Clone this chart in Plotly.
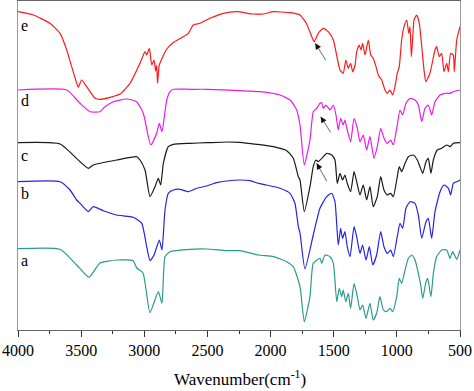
import plotly.graph_objects as go

# ---- data (wavenumber cm-1, offset transmittance in arbitrary units) ----
a_wn = [4000, 3667, 3535, 3438, 3351, 3218, 3089, 3060, 3010, 2955, 2889, 2860, 2836, 2796, 2638, 2506, 2347, 2242, 2097, 1978, 1872, 1820, 1767, 1733, 1688, 1662, 1609, 1595, 1569, 1529, 1503, 1476, 1456, 1437, 1425, 1404, 1385, 1366, 1339, 1313, 1292, 1271, 1244, 1213, 1187, 1160, 1134, 1107, 1081, 1054, 1033, 1001, 981, 962, 935, 909, 882, 856, 830, 811, 795, 769, 756, 730, 711, 685, 645, 605, 579, 558, 526, 500]
a_t = [81.3, 80.7, 65, 52.7, 67, 70, 69.3, 62, 57, 17.3, 38.3, 26.7, 73.3, 78.3, 80.7, 81, 79.3, 79.3, 75, 73.3, 68.3, 63.3, 43.3, 8.3, 33.3, 66.7, 71.7, 66.7, 75, 73.3, 66.7, 28.3, 41.7, 33.3, 40, 28.3, 36.7, 21.7, 46.7, 33.3, 20, 25, 11.7, 26.7, 10, 16.7, 33.3, 20, 18.3, 21.7, 18.3, 33.3, 51.7, 46.7, 60, 71.7, 75, 70, 56.7, 45, 31.7, 48.3, 51.7, 33.3, 56.7, 73.3, 80, 80, 71.7, 78.3, 70.7, 80]

b_wn = [4000, 3667, 3588, 3535, 3509, 3443, 3404, 3325, 3218, 3087, 3020, 2981, 2955, 2923, 2881, 2860, 2836, 2810, 2770, 2717, 2651, 2585, 2506, 2427, 2347, 2242, 2163, 2097, 2031, 1925, 1846, 1807, 1780, 1767, 1728, 1662, 1609, 1556, 1516, 1490, 1464, 1445, 1430, 1411, 1393, 1371, 1339, 1318, 1292, 1271, 1244, 1218, 1191, 1160, 1128, 1102, 1076, 1049, 1028, 997, 975, 954, 928, 896, 856, 830, 803, 769, 751, 724, 698, 658, 627, 592, 574, 553, 526, 500]
b_t = [148.3, 148.3, 140, 130, 126.7, 118.3, 123.3, 119.3, 115, 112.7, 106.7, 83.3, 69.3, 75, 90, 80, 120, 136.7, 140, 140.7, 138.3, 141.7, 144, 147.3, 149, 150, 149.3, 146.7, 145, 141.7, 136.7, 126.7, 103.3, 97, 61, 95, 121.7, 133.3, 136.7, 128.3, 85, 101.7, 91.7, 98.3, 83.3, 73.3, 103.3, 93.3, 76.7, 85, 70, 83.3, 65, 75, 98.3, 83.3, 76.7, 80, 73.3, 93.3, 106.7, 101.7, 121.7, 128.3, 126.7, 115, 91.7, 108.3, 111.7, 91.7, 118.3, 138.3, 145, 141.7, 135, 146.7, 148.3, 150]

c_wn = [4000, 3667, 3509, 3443, 3404, 3218, 3060, 3034, 2994, 2955, 2915, 2889, 2870, 2849, 2810, 2770, 2638, 2506, 2347, 2242, 2110, 1978, 1872, 1820, 1780, 1767, 1733, 1688, 1662, 1640, 1622, 1582, 1556, 1516, 1490, 1472, 1450, 1430, 1411, 1393, 1366, 1339, 1318, 1292, 1266, 1239, 1213, 1187, 1155, 1128, 1102, 1076, 1049, 1028, 1001, 981, 962, 935, 909, 869, 838, 817, 795, 769, 751, 730, 711, 680, 645, 605, 579, 553, 500]
c_t = [187.3, 186, 168.3, 161.7, 165, 170, 173.3, 170, 160, 133.3, 143.3, 151.7, 145, 166.7, 183.3, 185.7, 186.7, 187.3, 188, 187.7, 185.7, 183.3, 179.3, 171.7, 153.3, 150, 118.3, 143.3, 163.3, 170, 168.3, 173.3, 176.7, 175, 170, 146.7, 156.7, 150, 155, 146.7, 138.3, 158.3, 148.3, 135, 145, 130, 143.3, 123.3, 133.3, 153.3, 140, 135, 136.7, 133.3, 150, 163.3, 158.3, 166.7, 173.3, 175, 170, 163.3, 156.7, 168.3, 171.7, 156.7, 170, 180, 181.7, 185, 183.3, 186.7, 187.3]

d_wn = [4000, 3614, 3509, 3430, 3351, 3311, 3245, 3139, 3060, 3008, 2949, 2902, 2881, 2860, 2822, 2796, 2770, 2638, 2506, 2242, 2084, 1925, 1846, 1807, 1793, 1767, 1733, 1688, 1662, 1635, 1609, 1595, 1582, 1561, 1529, 1503, 1482, 1464, 1445, 1425, 1411, 1393, 1366, 1339, 1313, 1292, 1266, 1239, 1213, 1181, 1155, 1128, 1102, 1076, 1049, 1028, 997, 975, 954, 928, 896, 856, 830, 803, 777, 751, 724, 698, 658, 619, 579, 553, 500]
d_t = [240, 240, 226.7, 218.3, 218.3, 223.3, 228.3, 231, 228.3, 216.7, 185, 196.7, 206.7, 198.3, 230, 238.3, 240.7, 240.7, 240.7, 239.3, 238.3, 235, 230, 223.3, 220, 205, 165, 190, 218.3, 221.7, 226.7, 227.3, 221.7, 225, 220, 225, 215, 200, 211.7, 205, 210, 200, 188.3, 211.7, 201.7, 188.3, 195, 180, 193.3, 171.7, 183.3, 201.7, 191.7, 186.7, 190, 185, 205, 220, 215, 226.7, 231.7, 230, 225, 208.3, 221.7, 225, 215, 228.3, 235, 236.7, 236.7, 238.3, 240]

e_wn = [4000, 3879, 3747, 3667, 3614, 3575, 3535, 3523, 3496, 3456, 3390, 3351, 3271, 3192, 3113, 3034, 2994, 2981, 2960, 2941, 2923, 2910, 2902, 2895, 2881, 2822, 2770, 2691, 2651, 2612, 2559, 2480, 2374, 2268, 2137, 2058, 1978, 1846, 1767, 1714, 1674, 1654, 1622, 1582, 1543, 1503, 1472, 1450, 1425, 1404, 1385, 1366, 1350, 1331, 1318, 1298, 1284, 1271, 1252, 1226, 1207, 1187, 1165, 1147, 1120, 1094, 1076, 1054, 1033, 1015, 997, 981, 962, 943, 922, 906, 896, 885, 874, 864, 843, 822, 803, 785, 771, 738, 698, 685, 664, 645, 627, 605, 592, 574, 553, 545, 526, 500]
e_t = [318.3, 315, 306.7, 296.7, 280, 263.3, 246.7, 242.7, 250, 243.3, 231.7, 230.7, 232.7, 236, 246.7, 266.7, 278.3, 275, 281.7, 265, 270, 259, 265, 246.7, 265, 281, 287.5, 293.3, 296.7, 305, 306.7, 311.7, 316.7, 318.3, 316, 316, 318.3, 317.3, 315, 306, 293.3, 288.3, 296.7, 301.7, 298.3, 290, 271.7, 260, 256.7, 270, 261.7, 266.7, 258.3, 265, 278.3, 285, 280, 286.7, 275, 290, 275, 271.7, 263.3, 255, 250, 240, 236.7, 240, 235, 243.3, 256.7, 263.3, 290, 303.3, 310, 296.7, 303.3, 273.3, 293.3, 310, 315, 306.7, 283.3, 260, 248.3, 256.7, 280, 283.3, 273.3, 276.7, 258.3, 266.7, 258.3, 276.7, 275, 258.3, 290, 303.3]

tick_vals = [4000, 3500, 3000, 2500, 2000, 1500, 1000, 500]
tick_text = ["4000", "3500", "3000", "2500", "2000", "1500", "1000", "500"]

series = [
    ("a", a_wn, a_t, "#2a9a8c"),
    ("b", b_wn, b_t, "#2424e6"),
    ("c", c_wn, c_t, "#1a1a1a"),
    ("d", d_wn, d_t, "#e81ce8"),
    ("e", e_wn, e_t, "#ff1a1a"),
]
label_pos = {"a": 70, "b": 137, "c": 175, "d": 230, "e": 305}

# arrows: (head wn, head t, tail wn, tail t)
arrows = [(1646, 286.7, 1556, 268.3), (1603, 213.3, 1516, 196), (1635, 166.7, 1548, 147.3)]

fig = go.Figure()
for name, xs, ys, col in series:
    fig.add_trace(go.Scatter(x=xs, y=ys, mode="lines", name=name,
                             line=dict(color=col, width=1.2, shape="spline", smoothing=0.5),
                             showlegend=False))

serif = "Liberation Serif, Times New Roman, serif"
anns = []
for name, _, _, _ in series:
    anns.append(dict(x=3945, y=label_pos[name], xref="x", yref="y", text=name,
                     showarrow=False, font=dict(family=serif, size=16, color="black")))
for hx, hy, tx, ty in arrows:
    anns.append(dict(x=hx, y=hy, ax=tx, ay=ty, xref="x", yref="y", axref="x", ayref="y",
                     text="", showarrow=True, arrowhead=0, arrowwidth=1.2, arrowcolor="#8a8a8a"))
    mx = hx + (tx - hx) * 0.35
    my = hy + (ty - hy) * 0.35
    anns.append(dict(x=hx, y=hy, ax=mx, ay=my, xref="x", yref="y", axref="x", ayref="y",
                     text="", showarrow=True, arrowhead=2, arrowsize=1.0, arrowwidth=1.2,
                     arrowcolor="#111111"))
anns.append(dict(x=0.502, y=-0.146, xref="paper", yref="paper",
                 text="Wavenumber(cm<sup>-1</sup>)", showarrow=False,
                 font=dict(family=serif, size=17, color="black"), yanchor="middle"))

fig.update_layout(
    width=474, height=391,
    margin=dict(l=18, r=14, t=1, b=61),
    paper_bgcolor="white", plot_bgcolor="white",
    annotations=anns,
)
fig.update_xaxes(range=[4000, 500], tickmode="array",
                 tickvals=tick_vals, ticktext=tick_text,
                 ticks="outside", ticklen=6, tickwidth=1, tickcolor="#333",
                 minor=dict(ticks="outside", ticklen=3, tickcolor="#333", dtick=250, tick0=500),
                 showline=True, linecolor="#666", linewidth=1.2, mirror=True,
                 showgrid=False, zeroline=False,
                 tickfont=dict(family=serif, size=16, color="black"))
fig.update_yaxes(range=[0, 329], showticklabels=False, ticks="",
                 showline=True, linecolor="#999", linewidth=1.2, mirror=True,
                 showgrid=False, zeroline=False)

fig.write_html("out.html", config={"displayModeBar": False},
               post_script="document.body.style.margin='0';document.body.style.padding='0';")
